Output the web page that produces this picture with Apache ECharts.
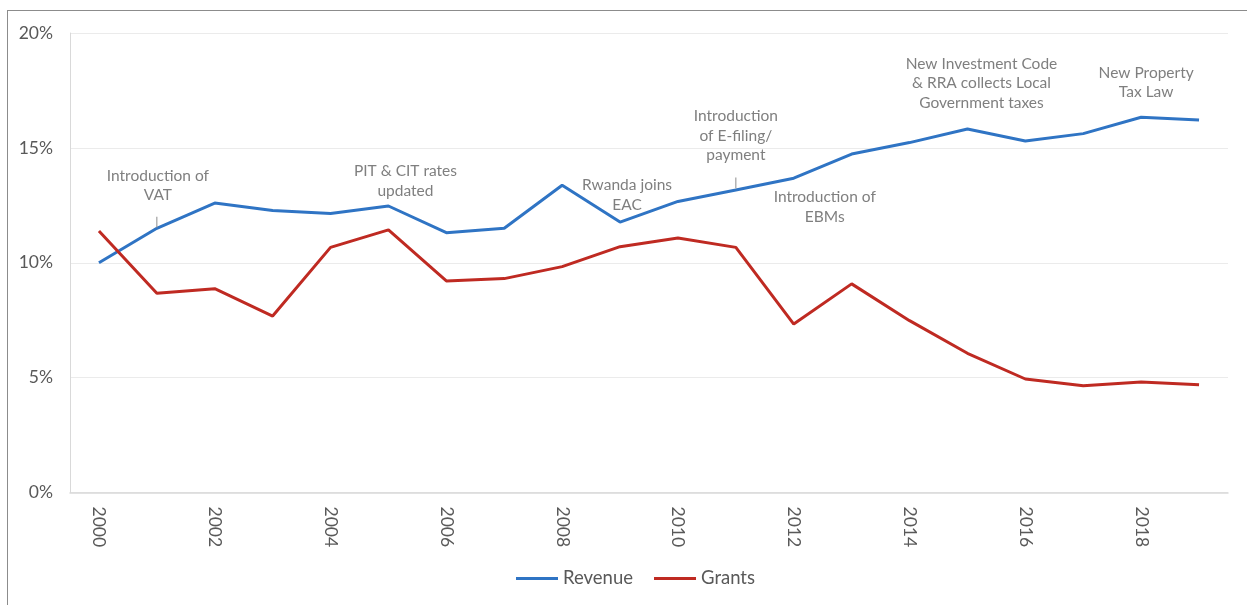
<!DOCTYPE html>
<html>
<head>
<meta charset="utf-8">
<script src="https://cdn.jsdelivr.net/npm/echarts@6/dist/echarts.min.js"></script>
<style>
  html, body { margin: 0; padding: 0; background: #fff; overflow: hidden; }
  #frame {
    position: absolute; left: 7px; top: 10px; width: 1260px; height: 620px;
    border: 1px solid #8c8c8c; box-sizing: border-box;
  }
  #chart { position: absolute; left: 0; top: 0; width: 1247px; height: 605px; }
</style>
</head>
<body>
<div id="frame"></div>
<div id="chart"></div>
<script>
// years on the category axis
const years = ['2000', '2001', '2002', '2003', '2004', '2005', '2006', '2007', '2008', '2009',
  '2010', '2011', '2012', '2013', '2014', '2015', '2016', '2017', '2018', '2019']

// % of GDP
const revenue = [10.0, 11.5, 12.6, 12.27, 12.14, 12.47, 11.31, 11.5, 13.37, 11.77,
  12.67, 13.17, 13.68, 14.73, 15.23, 15.82, 15.3, 15.62, 16.33, 16.21]
const grants = [11.38, 8.67, 8.87, 7.68, 10.67, 11.43, 9.21, 9.31, 9.83, 10.7,
  11.08, 10.67, 7.33, 9.08, 7.48, 6.06, 4.94, 4.65, 4.81, 4.69]

// policy events, anchored on the revenue line
const noteYears = ['2001', '2005', '2009', '2011', '2012', '2015', '2018']
const noteTexts = [
  'Introduction of\nVAT',
  'PIT & CIT rates\nupdated',
  'Rwanda joins\nEAC',
  'Introduction\nof E-filing/\npayment',
  'Introduction of\nEBMs',
  'New Investment Code\n& RRA collects Local\nGovernment taxes',
  'New Property\nTax Law'
]
const tickYears = ['2001', '2011']

const FONT = 'Lato, "Open Sans", sans-serif'
const GREY = '#595959'

// label placement relative to the anchor point (px)
const noteOffsets = [[1, -43], [17, -25], [7, -27], [0, -54], [31, 29], [14, -46], [5, -35]]
const tickOffsets = [-6, -7]

const revAt = (y) => revenue[years.indexOf(y)]

const marks = noteYears.map((y, i) => ({
  coord: [y, revAt(y)],
  symbol: 'circle',
  symbolSize: 1,
  itemStyle: { color: 'rgba(0,0,0,0)' },
  label: {
    show: true,
    position: 'inside',
    offset: noteOffsets[i],
    formatter: noteTexts[i],
    color: '#7f7f7f',
    fontFamily: FONT,
    fontSize: 15.5,
    lineHeight: 19.5,
    align: 'center',
    verticalAlign: 'middle'
  }
})).concat(tickYears.map((y, i) => ({
  coord: [y, revAt(y)],
  symbol: 'rect',
  symbolSize: [1, 11],
  symbolOffset: [0, tickOffsets[i]],
  itemStyle: { color: '#8c8c8c' },
  label: { show: false }
})))

const chart = echarts.init(document.getElementById('chart'))
chart.setOption({
  animation: false,
  grid: { left: 70, right: 19, top: 33, bottom: 112.5 },
  legend: {
    bottom: 12,
    left: 511,
    icon: 'rect',
    itemWidth: 42,
    itemHeight: 3,
    itemGap: 21,
    textStyle: { color: GREY, fontFamily: FONT, fontSize: 18.5 },
    data: ['Revenue', 'Grants']
  },
  xAxis: {
    type: 'category',
    data: years,
    boundaryGap: true,
    axisLine: { lineStyle: { color: '#d9d9d9', width: 1.5 } },
    axisTick: { show: false },
    axisLabel: {
      interval: 1,
      rotate: -90,
      margin: 14,
      color: GREY,
      fontFamily: FONT,
      fontSize: 17.5
    }
  },
  yAxis: {
    type: 'value',
    min: 0,
    max: 20,
    interval: 5,
    axisLine: { show: true, lineStyle: { color: '#d9d9d9', width: 1 } },
    axisTick: { show: false },
    splitLine: { lineStyle: { color: '#ebebeb', width: 1.2 } },
    axisLabel: {
      formatter: '{value}%',
      margin: 17,
      color: GREY,
      fontFamily: FONT,
      fontSize: 17.5
    }
  },
  series: [
    {
      name: 'Revenue',
      type: 'line',
      data: revenue,
      symbol: 'none',
      color: '#2f74c4',
      lineStyle: { width: 3 },
      markPoint: { silent: true, data: marks }
    },
    {
      name: 'Grants',
      type: 'line',
      data: grants,
      symbol: 'none',
      color: '#bf2a22',
      lineStyle: { width: 3 }
    }
  ]
})
</script>
</body>
</html>
